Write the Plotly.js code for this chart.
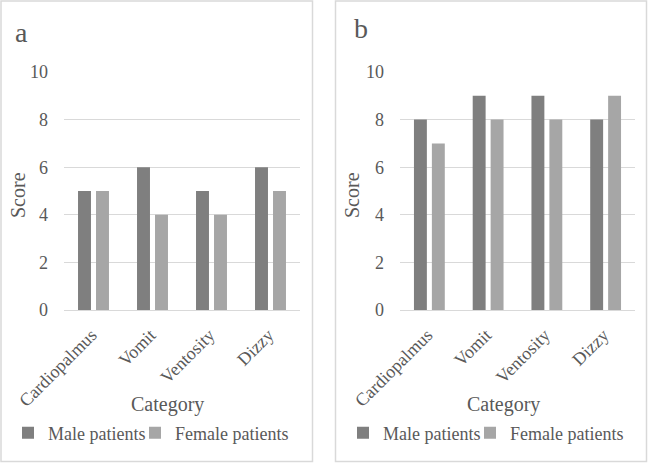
<!DOCTYPE html>
<html>
<head>
<meta charset="utf-8">
<script src="https://cdn.plot.ly/plotly-3.0.1.min.js"></script>
<style>
  html, body { margin: 0; padding: 0; background: #fff; }
  #chart { width: 650px; height: 463px; }
</style>
</head>
<body>
<div id="chart"></div>
<script>
// Symptom scores by category, two panels (a, b)
const categories = ['Cardiopalmus', 'Vomit', 'Ventosity', 'Dizzy'];
const maleA = [5, 6, 5, 6];
const femaleA = [5, 4, 4, 5];
const maleB = [8, 9, 9, 8];
const femaleB = [7, 8, 8, 9];
const seriesNames = ['Male patients', 'Female patients'];
const yTicks = [0, 2, 4, 6, 8, 10];

const W = 650, H = 463;
const FONT = 'Liberation Serif, Times New Roman, serif';
const TEXT = '#595959';
const GRID = '#d9d9d9';
const DARK = '#7f7f7f';
const LIGHT = '#a6a6a6';

const px = v => v / W;
const py = v => 1 - v / H;

function bar(x, y, name, color, xa, ya, legend, entryWidth) {
  const t = {
    type: 'bar', x: x, y: y, name: name,
    marker: { color: color },
    xaxis: xa, yaxis: ya, legend: legend,
    hoverinfo: 'skip'
  };
  if (entryWidth) t.legendwidth = entryWidth;
  return t;
}

const data = [
  bar(categories, maleA, seriesNames[0], DARK, 'x', 'y', 'legend', 82),
  bar(categories, femaleA, seriesNames[1], LIGHT, 'x', 'y', 'legend'),
  bar(categories, maleB, seriesNames[0], DARK, 'x2', 'y2', 'legend2', 82),
  bar(categories, femaleB, seriesNames[1], LIGHT, 'x2', 'y2', 'legend2')
];

function xAxis(domain, anchor) {
  return {
    domain: domain, anchor: anchor, type: 'category',
    tickangle: -45, ticks: '', showgrid: false, showline: false,
    zeroline: false, automargin: false,
    ticklabelstandoff: 10, ticklabelshift: -2,
    tickfont: { family: FONT, size: 18, color: TEXT }
  };
}
function yAxis(anchor) {
  return {
    domain: [py(310), py(72)], anchor: anchor, range: [0, 10],
    tickvals: yTicks, ticks: '', showline: false,
    gridcolor: GRID, gridwidth: 1,
    zeroline: true, zerolinecolor: GRID, zerolinewidth: 1,
    ticklabelstandoff: 15, automargin: false,
    tickfont: { family: FONT, size: 18, color: TEXT }
  };
}
function legendAt(x) {
  return {
    orientation: 'h', x: px(x), y: py(433), xanchor: 'left', yanchor: 'middle',
    font: { family: FONT, size: 18, color: TEXT },
    bgcolor: 'rgba(0,0,0,0)', borderwidth: 0, traceorder: 'normal'
  };
}
function note(text, x, y, size, extra) {
  return Object.assign({
    text: text, x: px(x), y: py(y), xref: 'paper', yref: 'paper',
    showarrow: false, xanchor: 'center', yanchor: 'middle',
    font: { family: FONT, size: size, color: TEXT }
  }, extra || {});
}

const layout = {
  width: W, height: H,
  margin: { l: 0, r: 0, t: 0, b: 0 },
  paper_bgcolor: '#fff', plot_bgcolor: 'rgba(0,0,0,0)',
  barmode: 'group', bargap: 0.39, bargroupgap: 0.28,
  showlegend: true,
  xaxis: xAxis([px(64), px(300)], 'y'),
  yaxis: yAxis('x'),
  xaxis2: xAxis([px(400), px(635)], 'y2'),
  yaxis2: yAxis('x2'),
  legend: legendAt(8),
  legend2: legendAt(343),
  shapes: [
    { type: 'rect', xref: 'paper', yref: 'paper', x0: px(1), x1: px(312.5), y0: py(461.5), y1: py(1),
      line: { color: GRID, width: 1.5 } },
    { type: 'rect', xref: 'paper', yref: 'paper', x0: px(335.5), x1: px(646.5), y0: py(461.5), y1: py(1),
      line: { color: GRID, width: 1.5 } }
  ],
  annotations: [
    note('a', 21, 33, 28),
    note('b', 361, 28, 28),
    note('Score', 18, 195, 20, { textangle: -90 }),
    note('Score', 352, 195, 20, { textangle: -90 }),
    note('Category', 167.5, 404, 20),
    note('Category', 503, 404, 20)
  ]
};

Plotly.newPlot('chart', data, layout, { staticPlot: true, displayModeBar: false });
</script>
</body>
</html>
